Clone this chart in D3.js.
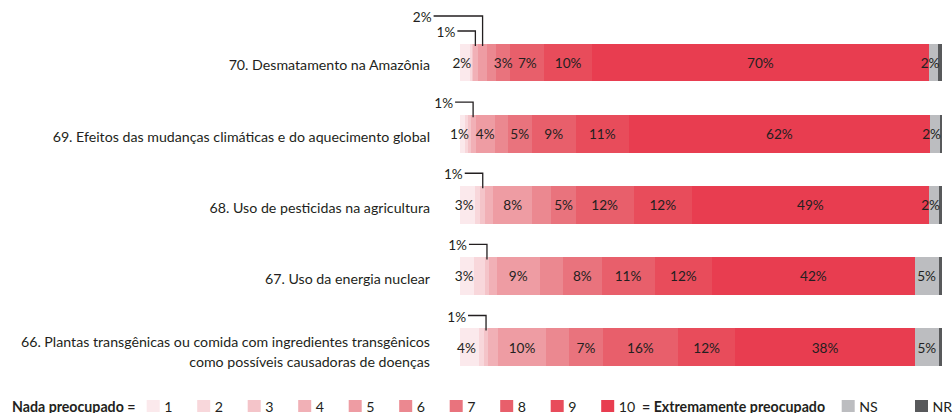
<!DOCTYPE html>
<html>
<head>
<meta charset="utf-8">
<script src="https://cdn.jsdelivr.net/npm/d3@7"></script>
<style>
  html, body { margin: 0; padding: 0; background: #ffffff; }
  svg { display: block; font-family: Lato, "Noto Sans", sans-serif; }
</style>
</head>
<body>
<svg id="chart" width="952" height="413"></svg>
<script>
// Survey items, top to bottom
const categories = [
  "70. Desmatamento na Amazônia",
  "69. Efeitos das mudanças climáticas e do aquecimento global",
  "68. Uso de pesticidas na agricultura",
  "67. Uso da energia nuclear",
  "66. Plantas transgênicas ou comida com ingredientes transgênicos\ncomo possíveis causadoras de doenças"
];

// Answer levels: 1 (not worried) ... 10 (extremely worried), NS, NR
const levels = ["1", "2", "3", "4", "5", "6", "7", "8", "9", "10", "NS", "NR"];

// Share of answers (%) per level, one array per item
const desmatamento = [2, 0.4, 0.3, 1, 2, 1.8, 3, 7, 10, 70, 2, 0.7];
const mudancasClimaticas = [1, 0.6, 0.6, 1, 4, 2.6, 5, 9, 11, 62, 2, 0.4];
const pesticidas = [3, 1.2, 1, 1.7, 8, 4, 5, 12, 12, 49, 2, 0.6];
const energiaNuclear = [3, 2.1, 1, 1.5, 9, 4.8, 8, 11, 12, 42, 5, 0.6];
const transgenicos = [4, 1, 1, 2.1, 10, 5, 7, 16, 12, 38, 5, 0.6];

// Which levels carry a label inside the bar, and which get a leader line above it
const insideLabels = [
  [0, 6, 7, 8, 9, 10],
  [0, 4, 6, 7, 8, 9, 10],
  [0, 4, 6, 7, 8, 9, 10],
  [0, 4, 6, 7, 8, 9, 10],
  [0, 4, 6, 7, 8, 9, 10]
];
const calloutLabels = [
  [3, 4],
  [3],
  [2],
  [2],
  [2]
];

const legendStart = "Nada preocupado =";
const legendEnd = "= Extremamente preocupado";

const colors = ["#fbe9ec", "#f8d7db", "#f4c4c9", "#f1b0b6", "#ee9ca3", "#eb8890",
                "#e9737d", "#e85f6b", "#e84c5b", "#e83d50", "#bcbdc0", "#58595b"];

const series = [desmatamento, mudancasClimaticas, pesticidas, energiaNuclear, transgenicos];
const table = categories.map((c, i) => {
  const row = { cat: c };
  levels.forEach((l, j) => { row[l] = series[i][j]; });
  return row;
});

const svg = d3.select("#chart");
const ink = "#231f20";

const x = d3.scaleLinear().domain([0, 1]).range([460, 941.5]);
const y = d3.scaleBand().domain(categories).range([43.5, 366]).paddingInner(0.466).paddingOuter(0);
const color = d3.scaleOrdinal().domain(levels).range(colors);

const stacked = d3.stack().keys(levels).offset(d3.stackOffsetExpand)(table);

// Bars
svg.append("g").selectAll("g")
  .data(stacked)
  .join("g")
  .attr("fill", d => color(d.key))
  .selectAll("rect")
  .data(d => d)
  .join("rect")
  .attr("x", d => x(d[0]))
  .attr("y", d => y(d.data.cat))
  .attr("width", d => Math.max(0, x(d[1]) - x(d[0])))
  .attr("height", y.bandwidth())
  .attr("shape-rendering", "crispEdges");

// Item labels on the left
const catG = svg.append("g");
categories.forEach(c => {
  const lines = c.split("\n");
  const mid = y(c) + y.bandwidth() / 2;
  const t = catG.append("text")
    .attr("x", 430)
    .attr("text-anchor", "end")
    .attr("font-size", 14.2)
    .attr("fill", ink)
    .attr("dominant-baseline", "central");
  if (lines.length === 1) {
    t.attr("y", mid + 2.5).text(lines[0]);
  } else {
    t.append("tspan").attr("x", 430).attr("y", mid - 6).text(lines[0]);
    t.append("tspan").attr("x", 430).attr("y", mid + 14).text(lines[1]);
  }
});

const fmt = v => Math.round(v) + "%";

// Percentage labels inside the bars
const valG = svg.append("g")
  .attr("font-size", 13.6)
  .attr("fill", ink)
  .attr("text-anchor", "middle")
  .attr("dominant-baseline", "central");

categories.forEach((c, i) => {
  const mid = y(c) + y.bandwidth() / 2;
  insideLabels[i].forEach(j => {
    const seg = stacked[j][i];
    let cx = (x(seg[0]) + x(seg[1])) / 2;
    if (j === 0) cx -= 3;
    if (levels[j] === "NS") cx = Math.min(cx, x(seg[1]) - 8);
    valG.append("text")
      .attr("x", cx)
      .attr("y", mid + 0.5)
      .text(fmt(series[i][j]));
  });
});

// Leader-line labels for the thin segments
const calloutRise = [12.5, 27.5];
const calloutRun = [18, 49];
const callG = svg.append("g");
categories.forEach((c, i) => {
  const top = y(c);
  calloutLabels[i].forEach((j, k) => {
    const seg = stacked[j][i];
    const cx = (x(seg[0]) + x(seg[1])) / 2;
    const ly = top - calloutRise[k];
    const lx = cx - calloutRun[k];
    callG.append("path")
      .attr("d", `M${lx},${ly}H${cx}V${top + 2.5}`)
      .attr("fill", "none")
      .attr("stroke", ink)
      .attr("stroke-width", 1.3);
    callG.append("text")
      .attr("x", lx - 2)
      .attr("y", ly + 1)
      .attr("text-anchor", "end")
      .attr("dominant-baseline", "central")
      .attr("font-size", 13.6)
      .attr("fill", ink)
      .text(fmt(series[i][j]));
  });
});

// Legend
const legY = 406;
const leg = svg.append("g").attr("font-size", 14.2).attr("fill", ink);
leg.append("text")
  .attr("x", 12).attr("y", legY)
  .attr("dominant-baseline", "central")
  .attr("font-weight", "bold")
  .text(legendStart);

const swatchX = i => i < 10 ? 146.7 + 50.5 * i : (i === 10 ? 841.7 : 915);
levels.forEach((l, i) => {
  leg.append("rect")
    .attr("x", swatchX(i)).attr("y", legY - 6)
    .attr("width", 13).attr("height", 12)
    .attr("fill", color(l));
  leg.append("text")
    .attr("x", swatchX(i) + 17.5).attr("y", legY)
    .attr("dominant-baseline", "central")
    .text(l);
});
leg.append("text")
  .attr("x", 642).attr("y", legY)
  .attr("dominant-baseline", "central")
  .attr("font-weight", "bold")
  .text(legendEnd);
</script>
</body>
</html>
